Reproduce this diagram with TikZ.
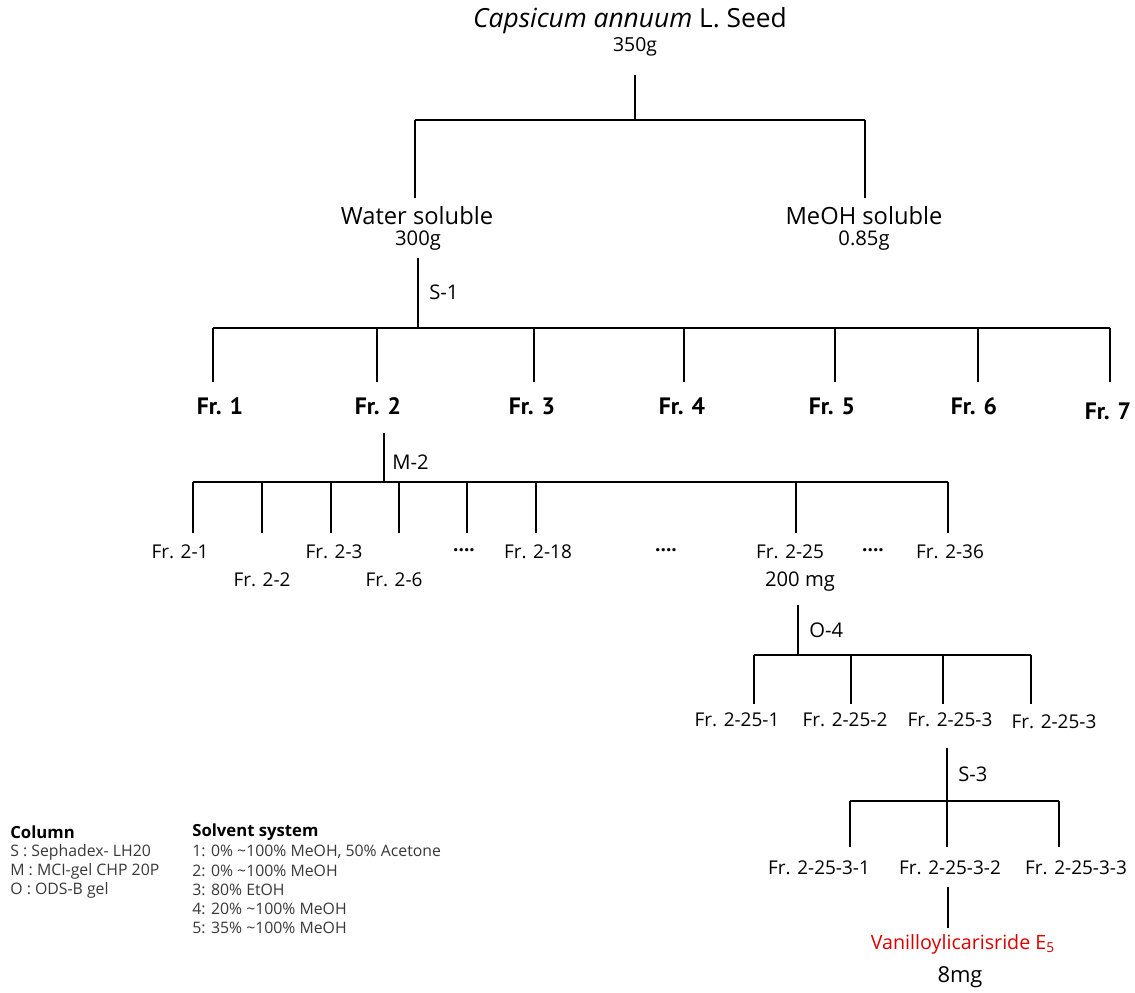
\documentclass[tikz,border=0pt]{standalone}
\usepackage{fontspec}
\setmainfont{Open Sans}
\newfontfamily\frfont{PT Sans}
\begin{document}
\begin{tikzpicture}[x=0.02cm,y=-0.02cm,
  ln/.style={line width=1.35pt},
  txt/.style={inner sep=0pt, anchor=center},
  title/.style={txt, font=\fontsize{15}{18}\selectfont},
  big/.style={txt, font=\fontsize{13.5}{16}\selectfont},
  mass/.style={txt, font=\fontsize{11.5}{14}\selectfont},
  col/.style={txt, anchor=west, font=\fontsize{11.5}{14}\selectfont},
  frbig/.style={txt, font=\frfont\bfseries\fontsize{13.5}{16}\selectfont},
  frsm/.style={txt, font=\fontsize{10.8}{13}\selectfont},
  leg/.style={txt, anchor=west, font=\fontsize{9}{11}\selectfont, text=black!78},
  leghead/.style={txt, anchor=west, font=\bfseries\fontsize{9.5}{11}\selectfont},
  red/.style={txt, font=\fontsize{11.2}{13}\selectfont, text=red!85!black}
]
\useasboundingbox (0,0) rectangle (1135,992);

% ---------- root ----------
\node[title] (root) at (630,21) {\textit{Capsicum annuum} L. Seed};
\node[mass, font=\fontsize{11}{13}\selectfont] (rootm) at (635,47) {350g};
\coordinate (t0) at (635,75);
\coordinate (j0) at (635,120);
\coordinate (b0l) at (415,120);
\coordinate (b0r) at (865,120);
\coordinate (c0a) at (415,198);
\coordinate (c0b) at (865,198);
\draw[ln] (t0) -- (j0);
\draw[ln] (b0l) -- (b0r);
\draw[ln] (b0l) -- (c0a);
\draw[ln] (b0r) -- (c0b);

\node[big] (water) at (417,216) {Water soluble};
\node[mass] (waterm) at (418,241) {300g};
\node[big] (meoh) at (864,216) {MeOH soluble};
\node[mass] (meohm) at (864,241) {0.85g};

% ---------- S-1 ----------
\coordinate (t1) at (418,258);
\coordinate (j1) at (418,328);
\node[col] (s1) at (429,292) {S-1};
\draw[ln] (t1) -- (j1);
\coordinate (b1l) at (213,328);
\coordinate (b1r) at (1110,328);
\draw[ln] (b1l) -- (b1r);
\foreach \x/\n in {213/1,377/2,534/3,684/4,835/5,978/6,1110/7}{
  \coordinate (f\n top) at (\x,328);
  \coordinate (f\n bot) at (\x,382);
  \draw[ln] (f\n top) -- (f\n bot);
}
\node[frbig] (fr1) at (220,406) {Fr. 1};
\node[frbig] (fr2) at (378,406) {Fr. 2};
\node[frbig] (fr3) at (532,406) {Fr. 3};
\node[frbig] (fr4) at (682,406) {Fr. 4};
\node[frbig] (fr5) at (832,406) {Fr. 5};
\node[frbig] (fr6) at (974,406) {Fr. 6};
\node[frbig] (fr7) at (1108,411) {Fr. 7};

% ---------- M-2 ----------
\coordinate (t2) at (384,433);
\coordinate (j2) at (384,482);
\node[col] (m2) at (392,462) {M-2};
\draw[ln] (t2) -- (j2);
\coordinate (b2l) at (193,482);
\coordinate (b2r) at (948,482);
\draw[ln] (b2l) -- (b2r);
\foreach \x/\n in {193/a,262/b,331/c,399/d,467/e,536/f,796/g,948/h}{
  \coordinate (g\n top) at (\x,482);
  \coordinate (g\n bot) at (\x,533);
  \draw[ln] (g\n top) -- (g\n bot);
}
\node[frsm] (fr21) at (180,552) {Fr. 2-1};
\node[frsm] (fr22) at (262,580) {Fr. 2-2};
\node[frsm] (fr23) at (334,552) {Fr. 2-3};
\node[frsm] (fr26) at (394,580) {Fr. 2-6};
\node[frsm] (dots1) at (464,550) {\textbf{....}};
\node[frsm] (fr218) at (538,552) {Fr. 2-18};
\node[frsm] (dots2) at (666,550) {\textbf{....}};
\node[frsm] (fr225) at (790,552) {Fr. 2-25};
\node[mass] (fr225m) at (800,582) {200 mg};
\node[frsm] (dots3) at (873,550) {\textbf{....}};
\node[frsm] (fr236) at (950,552) {Fr. 2-36};

% ---------- O-4 ----------
\coordinate (t3) at (798,605);
\coordinate (j3) at (798,655);
\node[col] (o4) at (809,630) {O-4};
\draw[ln] (t3) -- (j3);
\coordinate (b3l) at (754,655);
\coordinate (b3r) at (1031,655);
\draw[ln] (b3l) -- (b3r);
\foreach \x/\n in {754/a,851/b,943/c,1031/d}{
  \coordinate (h\n top) at (\x,655);
  \coordinate (h\n bot) at (\x,704);
  \draw[ln] (h\n top) -- (h\n bot);
}
\node[frsm] (fr2251) at (737,720) {Fr. 2-25-1};
\node[frsm] (fr2252) at (845,720) {Fr. 2-25-2};
\node[frsm] (fr2253) at (950,720) {Fr. 2-25-3};
\node[frsm] (fr2253b) at (1054,722) {Fr. 2-25-3};

% ---------- S-3 ----------
\coordinate (t4) at (947,748);
\coordinate (j4) at (947,801);
\node[col] (s3) at (958,774) {S-3};
\draw[ln] (t4) -- (j4);
\coordinate (b4l) at (850,801);
\coordinate (b4r) at (1059,801);
\draw[ln] (b4l) -- (b4r);
\foreach \x/\n in {850/a,947/b,1059/c}{
  \coordinate (k\n top) at (\x,801);
  \coordinate (k\n bot) at (\x,847);
  \draw[ln] (k\n top) -- (k\n bot);
}
\node[frsm] (fr22531) at (819,868) {Fr. 2-25-3-1};
\node[frsm] (fr22532) at (950,868) {Fr. 2-25-3-2};
\node[frsm] (fr22533) at (1076,868) {Fr. 2-25-3-3};

% ---------- final ----------
\coordinate (t5) at (948,887);
\coordinate (e5) at (948,928);
\draw[ln] (t5) -- (e5);
\node[red] (van) at (963,944) {Vanilloylicarisride E\textsubscript{5}};
\node[mass, font=\fontsize{12.5}{14}\selectfont] (vanm) at (960,977) {8mg};

% ---------- legend ----------
\node[leghead] (colh) at (10,832) {Column};
\node[leg] (c1) at (10,852) {S : Sephadex- LH20};
\node[leg] (c2) at (10,871) {M : MCI-gel CHP 20P};
\node[leg] (c3) at (10,890) {O : ODS-B gel};
\node[leghead] (solh) at (192,832) {Solvent system};
\node[leg] (s1l) at (192,852) {1: 0\% \textasciitilde100\% MeOH, 50\% Acetone};
\node[leg] (s2l) at (192,871) {2: 0\% \textasciitilde100\% MeOH};
\node[leg] (s3l) at (192,890) {3: 80\% EtOH};
\node[leg] (s4l) at (192,909) {4: 20\% \textasciitilde100\% MeOH};
\node[leg] (s5l) at (192,928) {5: 35\% \textasciitilde100\% MeOH};
\end{tikzpicture}
\end{document}
